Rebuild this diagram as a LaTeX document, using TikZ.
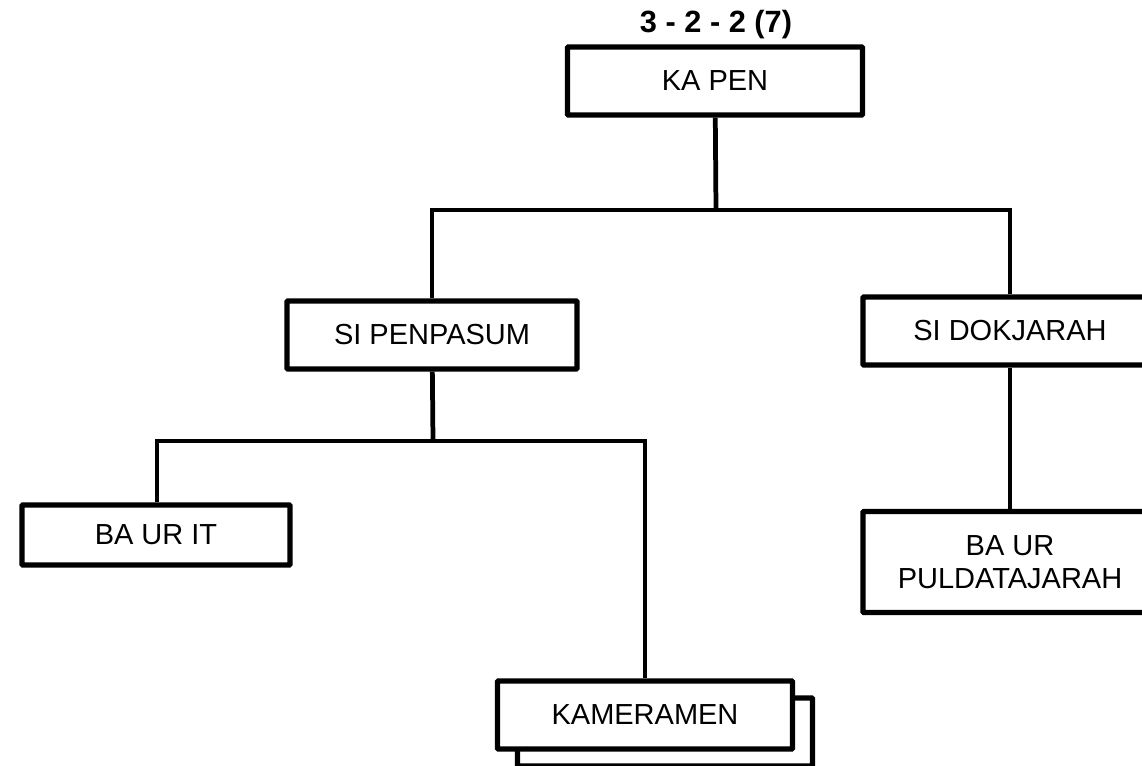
\documentclass[tikz,border=0pt]{standalone}
\usepackage{fontspec}
\setmainfont{Liberation Sans}
\usetikzlibrary{shadows}
\tikzset{
  unit/.style={shape=rectangle,draw=black,fill=white,line width=3pt,
    rounded corners=0.5pt,align=center,font=\fontsize{16.5}{19}\selectfont,
    minimum width=5.9cm,minimum height=1.36cm,inner sep=0pt},
  link/.style={line width=2.7pt}
}
\begin{document}
\begin{tikzpicture}[x=0.02cm,y=-0.02cm]
      \useasboundingbox (0,0) rectangle (1142,766);

      \node[font=\bfseries\fontsize{17.5}{20}\selectfont] (kode) at (716,25) {3 - 2 - 2 (7)};
      \node[unit] (kapen) at (715,81) {KA PEN};

        \node[unit,minimum width=5.8cm] (penpasum) at (432,335) {SI PENPASUM};
        \node[unit,minimum width=5.88cm] (dokjarah) at (1010,331) {SI DOKJARAH};

        \node[unit,minimum width=5.36cm,minimum height=1.2cm] (baurit) at (156,535) {BA UR IT};
        \node[unit,copy shadow={shadow xshift=0.4cm,shadow yshift=-0.34cm}] (kameramen) at (645,715) {KAMERAMEN};
        \node[unit,minimum width=5.88cm,minimum height=2.02cm] (puldata) at (1010,562) {BA UR\\PULDATAJARAH};

        \coordinate (busa) at (716,210);
        \coordinate (busb) at (433,441);

        \draw[link] (kapen) -- (busa);
        \draw[link] (penpasum.north) |- (busa) -| (dokjarah.north);
        \draw[link] (penpasum) -- (busb);
        \draw[link] (baurit.north -| 157,0) |- (busb) -| (kameramen.north);
        \draw[link] (dokjarah) -- (puldata);
    \end{tikzpicture}
\end{document}
